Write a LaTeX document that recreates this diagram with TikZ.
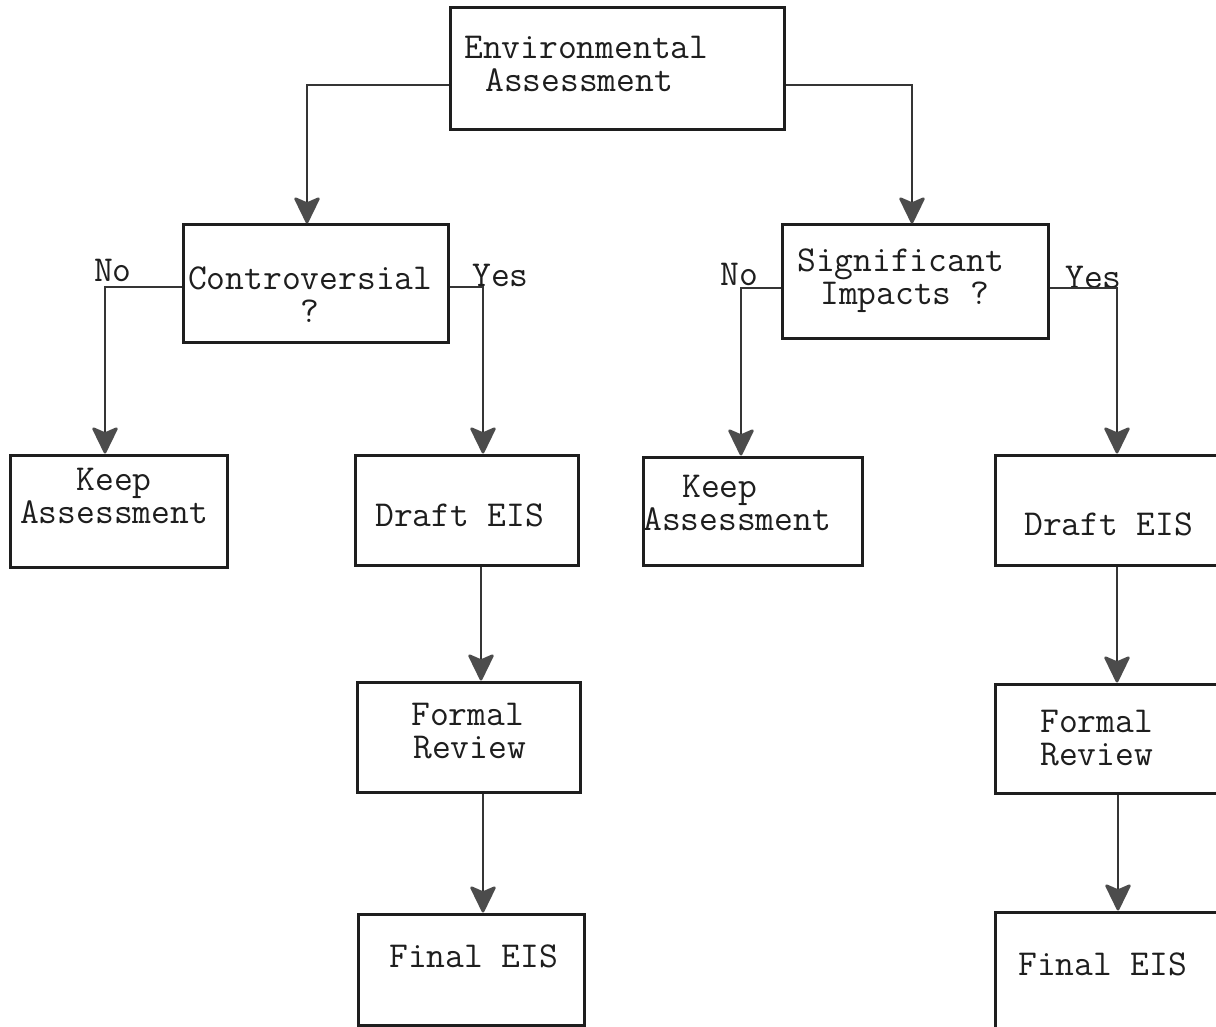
\documentclass[tikz,border=0pt]{standalone}
\usepackage{fontspec}
\usetikzlibrary{arrows.meta}
\definecolor{ink}{HTML}{1E1E1E}
\definecolor{tipgray}{HTML}{4C4C4C}
\newcommand{\lines}[2]{\begin{tabular}[t]{@{}#1@{}}#2\end{tabular}}
\begin{document}
\begin{tikzpicture}[x=1pt,y=-1pt,
  box/.style={draw=ink,line width=3pt,inner sep=0pt,anchor=center},
  txt/.style={anchor=base west,inner sep=0pt,text=ink,font=\ttfamily\fontsize{36.5}{33}\selectfont},
  ctxt/.style={txt,anchor=base},
  conn/.style={draw=ink!90,line width=2.7pt,
    -{Stealth[length=29pt,width=28pt,inset=6pt,round,fill=tipgray,color=tipgray]}}]
\useasboundingbox (0,0) rectangle (1216,1027);
\clip (0,0) rectangle (1216,1027);
\fill[white] (0,0) rectangle (1216,1027);

% boxes
\node[box,minimum width=334pt,minimum height=122pt] (env)     at (617,69) {};
\node[box,minimum width=265pt,minimum height=117pt] (contro)  at (315.5,283.5) {};
\node[box,minimum width=266pt,minimum height=113pt] (sig)     at (915,281.5) {};
\node[box,minimum width=217pt,minimum height=112pt] (keepL)   at (118.5,511) {};
\node[box,minimum width=223pt,minimum height=110pt] (draftL)  at (466.5,510) {};
\node[box,minimum width=223pt,minimum height=110pt] (formalL) at (468.5,737) {};
\node[box,minimum width=226pt,minimum height=111pt] (finalL)  at (471,969.5) {};
\node[box,minimum width=219pt,minimum height=108pt] (keepR)   at (752.5,511) {};
\node[box,minimum width=245pt,minimum height=110pt] (draftR)  at (1117.5,510) {};
\node[box,minimum width=245pt,minimum height=109pt] (formalR) at (1117.5,738.5) {};
\node[box,minimum width=245pt,minimum height=133pt] (finalR)  at (1117.5,978.5) {};

% box texts (anchored on the baseline of the first line)
\node[txt] (envT) at (464,59) {\lines{l}{Environmental\\\hspace*{21pt}Assessment}};
\node[txt] (conT) at (188,290) {\lines{c}{Controversial\\?}};
\node[txt] (sigT) at (797,272) {\lines{l}{Significant\\\hspace*{23pt}Impacts ?}};
\node[txt] (kLT) at (20,490) {\lines{c}{Keep\\Assessment}};
\node[txt] (dL) at (375,526) {Draft EIS};
\node[txt] (fLT) at (411,725) {\lines{l}{Formal\\\hspace*{2pt}Review}};
\node[txt] (nL) at (389,967) {Final EIS};
\node[txt] (kRT) at (643,497) {\lines{l}{\hspace*{39pt}Keep\\Assessment}};
\node[txt] (dR) at (1024,535) {Draft EIS};
\node[txt] (fRT) at (1040,732) {\lines{l}{Formal\\Review}};
\node[txt] (nR) at (1018,975) {Final EIS};

% branch labels
\node[txt] (noL)  at (94,282)   {No};
\node[txt] (yesL) at (472,287)  {Yes};
\node[txt] (noR)  at (720,285)  {No};
\node[txt] (yesR) at (1065,289) {Yes};

% connectors
\draw[conn] ([yshift=-16pt]env.west) -| ([xshift=-8.5pt]contro.north);
\draw[conn] ([yshift=-16pt]env.east) -| ([xshift=-3pt]sig.north);
\draw[conn] ([yshift=-3.5pt]contro.west) -| ([xshift=-13.5pt]keepL.north);
\draw[conn] ([yshift=-3.5pt]contro.east) -| ([xshift=16.5pt]draftL.north);
\draw[conn] ([yshift=-6.5pt]sig.west) -| ([xshift=-11.5pt]keepR.north);
\draw[conn] ([yshift=-6.5pt]sig.east) -| ([xshift=-0.5pt]draftR.north);
\draw[conn] ([xshift=14.5pt]draftL.south) -- ([xshift=12.5pt]formalL.north);
\draw[conn] ([xshift=14.5pt]formalL.south) -- ([xshift=12pt]finalL.north);
\draw[conn] ([xshift=-0.5pt]draftR.south) -- ([xshift=-0.5pt]formalR.north);
\draw[conn] ([xshift=0.5pt]formalR.south) -- ([xshift=0.5pt]finalR.north);
\end{tikzpicture}
\end{document}
